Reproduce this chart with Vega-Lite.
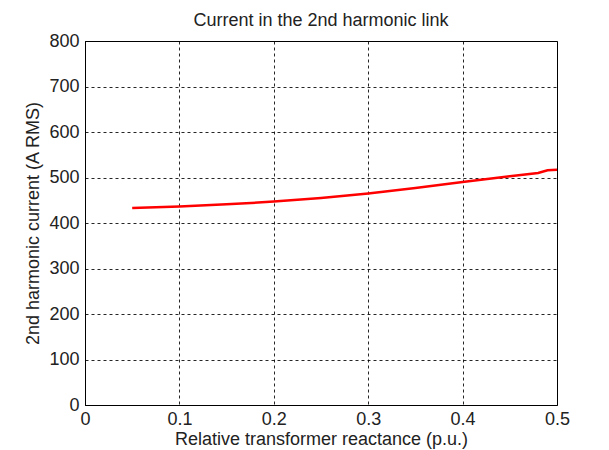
{
  "$schema": "https://vega.github.io/schema/vega-lite/v6.json",
  "autosize": "none",
  "width": 472,
  "height": 364,
  "padding": {"left": 85, "top": 41, "right": 52, "bottom": 45},
  "background": "white",
  "config": {
    "font": "Liberation Sans",
    "view": {"stroke": "black", "strokeWidth": 1},
    "axis": {
      "domainColor": "black",
      "grid": true,
      "gridColor": "black",
      "gridDash": [3, 3],
      "gridOpacity": 0.85,
      "ticks": false,
      "labelColor": "#222222",
      "titleColor": "#222222",
      "labelFontSize": 18,
      "titleFontSize": 18,
      "labelFont": "Liberation Sans",
      "titleFont": "Liberation Sans",
      "titleFontWeight": "normal"
    }
  },
  "title": {
    "text": "Current in the 2nd harmonic link",
    "fontSize": 18,
    "font": "Liberation Sans",
    "fontWeight": "normal",
    "color": "#222222",
    "offset": 2
  },
  "data": {
    "values": [
      {"x": 0.05, "y": 433},
      {"x": 0.1, "y": 436},
      {"x": 0.15, "y": 441},
      {"x": 0.2, "y": 447},
      {"x": 0.25, "y": 455},
      {"x": 0.3, "y": 465},
      {"x": 0.35, "y": 477},
      {"x": 0.4, "y": 490},
      {"x": 0.45, "y": 503},
      {"x": 0.48, "y": 510},
      {"x": 0.49, "y": 516},
      {"x": 0.5, "y": 517}
    ]
  },
  "mark": {"type": "line", "color": "#ff0000", "strokeWidth": 2.5},
  "encoding": {
    "x": {
      "field": "x",
      "type": "quantitative",
      "scale": {"domain": [0, 0.5], "nice": false},
      "axis": {"values": [0, 0.1, 0.2, 0.3, 0.4, 0.5], "format": "~g", "labelPadding": 5, "title": "Relative transformer reactance (p.u.)", "titlePadding": 2, "labelFlush": false}
    },
    "y": {
      "field": "y",
      "type": "quantitative",
      "scale": {"domain": [0, 800], "nice": false},
      "axis": {"values": [0, 100, 200, 300, 400, 500, 600, 700, 800], "labelPadding": 6, "title": "2nd harmonic current (A RMS)", "titlePadding": 6, "labelFlush": false}
    }
  }
}
